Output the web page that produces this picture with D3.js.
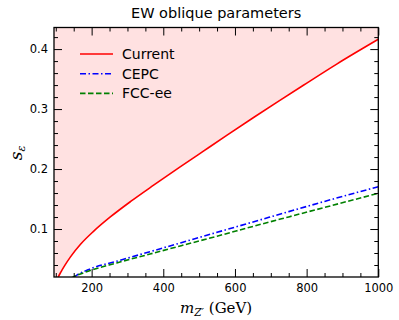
<!DOCTYPE html>
<html>
<head>
<meta charset="UTF-8">
<title>EW oblique parameters</title>
<style>
  body { margin: 0; background: #fff; }
  svg text { font-family: "DejaVu Sans", sans-serif; fill: #000; }
  .axis path { display: none; }
  .axis line { stroke: #000; stroke-width: 1; }
  .axis text { font-size: 11.5px; font-family: "DejaVu Sans", sans-serif; }
</style>
</head>
<body>
<script src="https://cdn.jsdelivr.net/npm/d3@7"></script>
<script>
// data
var currentMass = [104, 107, 115, 123, 141, 169, 206, 253, 309, 374, 448, 513, 578, 653, 721, 791, 884, 1000];
var currentS    = [0.015, 0.020, 0.029, 0.0372, 0.0535, 0.0745, 0.0965, 0.1205, 0.146, 0.1735, 0.204, 0.2303, 0.2565, 0.2863, 0.3128, 0.3397, 0.375, 0.4163];

var cepcMass = [150, 160, 190, 280, 363, 450, 550, 653, 750, 850, 1000];
var cepcS    = [0.019, 0.0235, 0.032, 0.048, 0.0622, 0.0772, 0.0945, 0.1122, 0.129, 0.146, 0.1706];

var fccMass = [142, 150, 180, 270, 363, 450, 550, 653, 750, 850, 1000];
var fccS    = [0.018, 0.0205, 0.0275, 0.0435, 0.0583, 0.0722, 0.088, 0.1048, 0.1202, 0.136, 0.1596];

var xMajor = [200, 400, 600, 800, 1000];
var xMinor = [100, 150, 250, 300, 350, 450, 500, 550, 650, 700, 750, 850, 900, 950];
var yMajor = [0.1, 0.2, 0.3, 0.4];
var yMinor = [0.04, 0.06, 0.08, 0.12, 0.14, 0.16, 0.18, 0.22, 0.24, 0.26, 0.28, 0.32, 0.34, 0.36, 0.38, 0.42];

var seriesNames = ["Current", "CEPC", "FCC-ee"];

var W = 399, H = 320;
var pLeft = 54, pRight = 378.3, pTop = 27.5, pBottom = 277;

var x = d3.scaleLinear().domain([95, 1000]).range([pLeft, pRight]);
var y = d3.scaleLinear().domain([0.02, 0.436]).range([pBottom, pTop]);

var svg = d3.select("body").append("svg")
    .attr("width", W).attr("height", H);

svg.append("defs").append("clipPath").attr("id", "clip")
  .append("rect")
    .attr("x", pLeft).attr("y", pTop)
    .attr("width", pRight - pLeft).attr("height", pBottom - pTop);

function pts(ms, ss) {
  return ms.map(function(m, i) { return [m, ss[i]]; });
}

var current = pts(currentMass, currentS);
var cepc = pts(cepcMass, cepcS);
var fcc = pts(fccMass, fccS);

// excluded region (above the current bound)
var fillPts = [[x.domain()[0], 0.0]].concat(current);
var area = d3.area()
    .x(function(d) { return x(d[0]); })
    .y0(y(y.domain()[1]))
    .y1(function(d) { return y(d[1]); })
    .curve(d3.curveMonotoneX);

var plot = svg.append("g").attr("clip-path", "url(#clip)");

plot.append("path")
    .attr("d", area(fillPts))
    .attr("fill", "#ffe1e1");

var line = d3.line()
    .x(function(d) { return x(d[0]); })
    .y(function(d) { return y(d[1]); })
    .curve(d3.curveMonotoneX);

plot.append("path").attr("d", line(current))
    .attr("fill", "none").attr("stroke", "#ff0000").attr("stroke-width", 1.6);
plot.append("path").attr("d", line(cepc))
    .attr("fill", "none").attr("stroke", "#0000ff").attr("stroke-width", 1.6)
    .attr("stroke-dasharray", "6,2.5,1.5,2.5");
plot.append("path").attr("d", line(fcc))
    .attr("fill", "none").attr("stroke", "#008000").attr("stroke-width", 1.6)
    .attr("stroke-dasharray", "5.5,2.5");

// axes, ticks inward on all sides
svg.append("g").attr("class", "axis")
    .attr("transform", "translate(0," + pBottom + ")")
    .call(d3.axisBottom(x).tickValues(xMajor).tickSize(-8).tickPadding(7).tickFormat(d3.format("d")));
svg.append("g").attr("class", "axis")
    .attr("transform", "translate(0," + pBottom + ")")
    .call(d3.axisBottom(x).tickValues(xMinor).tickSize(-4).tickFormat(""));
svg.append("g").attr("class", "axis")
    .attr("transform", "translate(0," + pTop + ")")
    .call(d3.axisTop(x).tickValues(xMajor).tickSize(-8).tickFormat(""));
svg.append("g").attr("class", "axis")
    .attr("transform", "translate(0," + pTop + ")")
    .call(d3.axisTop(x).tickValues(xMinor).tickSize(-4).tickFormat(""));

svg.append("g").attr("class", "axis")
    .attr("transform", "translate(" + pLeft + ",0)")
    .call(d3.axisLeft(y).tickValues(yMajor).tickSize(-8).tickPadding(6).tickFormat(d3.format(".1f")));
svg.append("g").attr("class", "axis")
    .attr("transform", "translate(" + pLeft + ",0)")
    .call(d3.axisLeft(y).tickValues(yMinor).tickSize(-4).tickFormat(""));
svg.append("g").attr("class", "axis")
    .attr("transform", "translate(" + pRight + ",0)")
    .call(d3.axisRight(y).tickValues(yMajor).tickSize(-8).tickFormat(""));
svg.append("g").attr("class", "axis")
    .attr("transform", "translate(" + pRight + ",0)")
    .call(d3.axisRight(y).tickValues(yMinor).tickSize(-4).tickFormat(""));

svg.append("rect")
    .attr("x", pLeft).attr("y", pTop)
    .attr("width", pRight - pLeft).attr("height", pBottom - pTop)
    .attr("fill", "none").attr("stroke", "#000").attr("stroke-width", 1.3);

// legend
var legColors = ["#ff0000", "#0000ff", "#008000"];
var legDash = [null, "6,2.5,1.5,2.5", "5.5,2.5"];
var leg = svg.append("g");
seriesNames.forEach(function(name, i) {
  var ly = 54 + i * 19.7;
  leg.append("line")
      .attr("x1", 80).attr("x2", 113).attr("y1", ly).attr("y2", ly)
      .attr("stroke", legColors[i]).attr("stroke-width", 1.6)
      .attr("stroke-dasharray", legDash[i]);
  leg.append("text")
      .attr("x", 122).attr("y", ly + 5)
      .style("font-size", "14px")
      .text(name);
});

// title
svg.append("text")
    .attr("x", (pLeft + pRight) / 2).attr("y", 17.5)
    .attr("text-anchor", "middle")
    .style("font-size", "14.5px")
    .text("EW oblique parameters");

// x label
var xl = svg.append("text")
    .attr("x", (pLeft + pRight) / 2).attr("y", 313)
    .attr("text-anchor", "middle")
    .style("font-family", "'DejaVu Serif', serif")
    .style("font-size", "15px");
xl.append("tspan").style("font-style", "italic").text("m");
xl.append("tspan").style("font-style", "italic").style("font-size", "10.5px").attr("dy", 3).text("Z\u2032");
xl.append("tspan").attr("dy", -3).text(" (GeV)");

// y label
var yl = svg.append("text")
    .attr("transform", "translate(22,153) rotate(-90)")
    .attr("text-anchor", "middle")
    .style("font-family", "'DejaVu Serif', serif")
    .style("font-size", "17px");
yl.append("tspan").style("font-style", "italic").text("s");
yl.append("tspan").style("font-style", "italic").style("font-size", "11px").attr("dy", 3).text("\u03b5");
</script>
</body>
</html>
